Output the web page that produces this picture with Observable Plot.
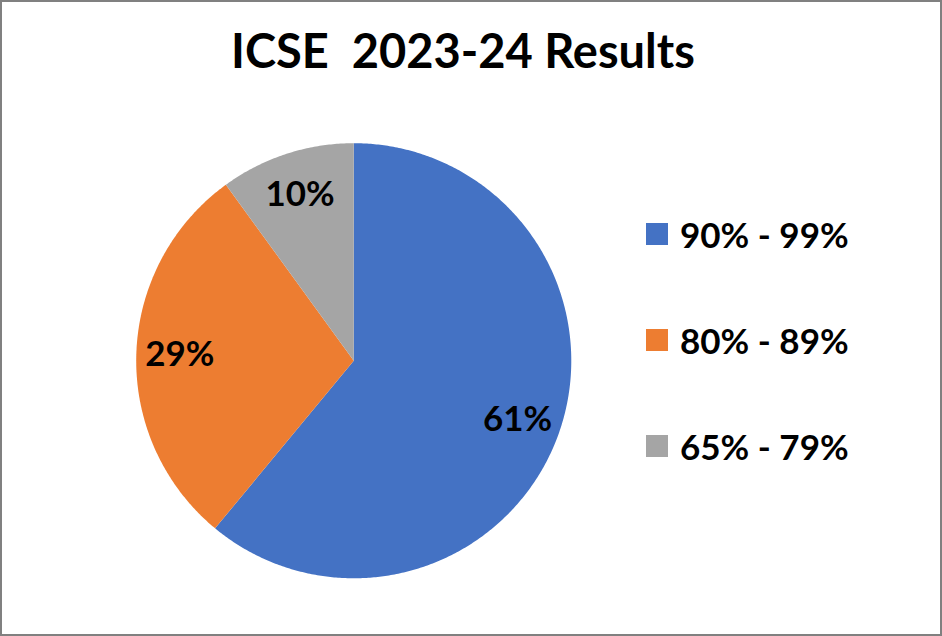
<!DOCTYPE html>
<html>
<head>
<meta charset="utf-8">
<script src="https://cdn.jsdelivr.net/npm/d3@7"></script>
<script src="https://cdn.jsdelivr.net/npm/@observablehq/plot@0.6"></script>
<style>
  html, body { margin: 0; padding: 0; background: #fff; }
  #page { position: relative; width: 942px; height: 636px; box-sizing: border-box; border: 2px solid #808080; background: #fff; overflow: hidden; font-family: Lato, "Open Sans", sans-serif; }
  #title { position: absolute; left: -8px; width: 938px; top: 20px; text-align: center; font-weight: 700; font-size: 47px; white-space: pre; color: #000; }
  #chart { position: absolute; left: -2px; top: -2px; }
  #legend { position: absolute; left: 644px; top: 212px; }
  .item { position: absolute; left: 0; height: 40px; display: flex; align-items: center; white-space: nowrap; font-weight: 700; font-size: 35px; color: #000; }
  .sw { width: 22px; height: 22px; margin-right: 12px; }
</style>
</head>
<body>
<div id="page">
  <div id="title"></div>
  <div id="chart"></div>
  <div id="legend"></div>
</div>
<script>
const titleText = "ICSE  2023-24 Results";
const categories = ["90% - 99%", "80% - 89%", "65% - 79%"];
const shares = [61, 29, 10];
const labels = ["61%", "29%", "10%"];
const colors = ["#4472C4", "#ED7D31", "#A5A5A5"];

document.getElementById("title").textContent = titleText;

// Pie geometry in data units (radius 1), starting at 12 o'clock, clockwise
const pie = d3.pie().sort(null).value(d => d.v)(categories.map((c, i) => ({c, v: shares[i], label: labels[i]})));
const pts = [];
pie.forEach(s => {
  const cat = s.data.c;
  pts.push({cat, x: 0, y: 0});
  const n = Math.max(2, Math.ceil((s.endAngle - s.startAngle) / (Math.PI / 360)));
  for (let k = 0; k <= n; k++) {
    const a = s.startAngle + (s.endAngle - s.startAngle) * k / n;
    pts.push({cat, x: Math.sin(a), y: Math.cos(a)});
  }
});
const labelPts = pie.map(s => {
  const a = (s.startAngle + s.endAngle) / 2;
  return {label: s.data.label, x: 0.8 * Math.sin(a), y: 0.8 * Math.cos(a)};
});

// Layout: svg 942x636, pie centre at (354,361) px, radius 218 px
const W = 942, H = 636, cx = 354, cy = 361, R = 218;
const chart = Plot.plot({
  width: W, height: H,
  margin: 0,
  x: {domain: [-cx / R, (W - cx) / R], axis: null},
  y: {domain: [-(H - cy) / R, cy / R], axis: null},
  color: {domain: categories, range: colors},
  style: {background: "transparent", overflow: "visible"},
  marks: [
    Plot.line(pts, {x: "x", y: "y", z: "cat", fill: "cat", stroke: null}),
    Plot.text(labelPts, {x: "x", y: "y", text: "label", fontSize: 35, fontWeight: 700, fill: "#000", fontFamily: "Lato, sans-serif"})
  ]
});
document.getElementById("chart").appendChild(chart);

// Legend
const legend = document.getElementById("legend");
categories.forEach((c, i) => {
  const item = document.createElement("div");
  item.className = "item";
  item.style.top = (i * 106) + "px";
  const sw = document.createElement("div");
  sw.className = "sw";
  sw.style.background = colors[i];
  const t = document.createElement("span");
  t.textContent = c;
  item.appendChild(sw);
  item.appendChild(t);
  legend.appendChild(item);
});
</script>
</body>
</html>
